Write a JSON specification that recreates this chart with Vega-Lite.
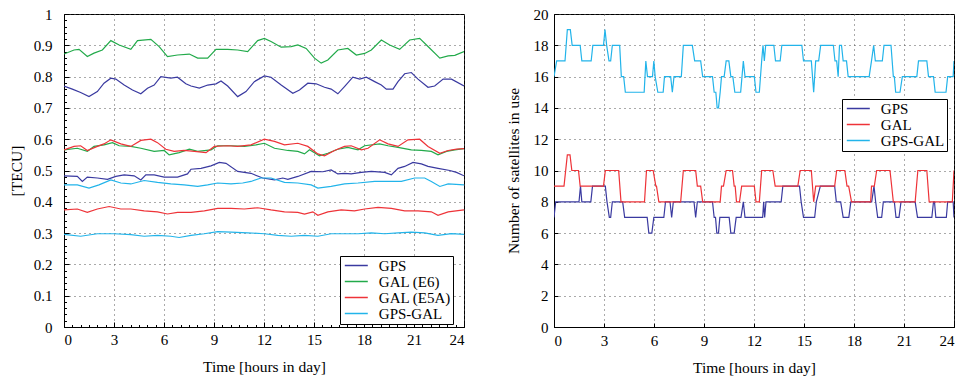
{
"$schema": "https://vega.github.io/schema/vega-lite/v6.json",
"background": "white",
"padding": {"left": 8, "top": 6, "right": 5, "bottom": 4},
"spacing": 40,
"config": {
  "font": "Liberation Serif",
  "view": {"stroke": "black", "strokeWidth": 1},
  "axis": {"labelFont": "Liberation Serif", "labelFontSize": 15, "labelColor": "black", "titleFont": "Liberation Serif", "titleFontSize": 15.5, "titleFontWeight": "normal", "titleColor": "black", "domainColor": "black", "domainWidth": 1, "tickColor": "black", "tickSize": -4, "gridColor": "#555", "gridDash": [1, 4], "gridOpacity": 1, "gridWidth": 1},
  "legend": {"orient": "none", "title": null, "strokeColor": "black", "fillColor": "white", "padding": 2, "rowPadding": 0, "labelFont": "Liberation Serif", "labelFontSize": 15, "labelColor": "black", "symbolType": "M-2.3,0H2.3", "symbolSize": 100, "symbolStrokeWidth": 1.5, "symbolOffset": 6.8, "labelOffset": 15}
},
"datasets": {
"tec": [
{"g":"A1","s":"GPS","t":0,"v":0.770},{"g":"A1","s":"GPS","t":0.5,"v":0.760},{"g":"A1","s":"GPS","t":1.0,"v":0.749},{"g":"A1","s":"GPS","t":1.5,"v":0.736},{"g":"A1","s":"GPS","t":2.0,"v":0.752},{"g":"A1","s":"GPS","t":2.4,"v":0.779},{"g":"A1","s":"GPS","t":2.81,"v":0.795},{"g":"A1","s":"GPS","t":3.11,"v":0.792},{"g":"A1","s":"GPS","t":3.61,"v":0.773},{"g":"A1","s":"GPS","t":4.11,"v":0.757},{"g":"A1","s":"GPS","t":4.61,"v":0.745},{"g":"A1","s":"GPS","t":5.01,"v":0.763},{"g":"A1","s":"GPS","t":5.41,"v":0.773},{"g":"A1","s":"GPS","t":5.81,"v":0.800},{"g":"A1","s":"GPS","t":6.41,"v":0.795},{"g":"A1","s":"GPS","t":6.81,"v":0.798},{"g":"A1","s":"GPS","t":7.31,"v":0.777},{"g":"A1","s":"GPS","t":7.62,"v":0.770},{"g":"A1","s":"GPS","t":8.12,"v":0.763},{"g":"A1","s":"GPS","t":8.62,"v":0.773},{"g":"A1","s":"GPS","t":9.12,"v":0.777},{"g":"A1","s":"GPS","t":9.42,"v":0.786},{"g":"A1","s":"GPS","t":9.82,"v":0.770},{"g":"A1","s":"GPS","t":10.42,"v":0.736},{"g":"A1","s":"GPS","t":10.92,"v":0.752},{"g":"A1","s":"GPS","t":11.42,"v":0.784},{"g":"A1","s":"GPS","t":12.02,"v":0.802},{"g":"A1","s":"GPS","t":12.42,"v":0.798},{"g":"A1","s":"GPS","t":13.03,"v":0.773},{"g":"A1","s":"GPS","t":13.73,"v":0.747},{"g":"A1","s":"GPS","t":14.13,"v":0.757},{"g":"A1","s":"GPS","t":14.63,"v":0.779},{"g":"A1","s":"GPS","t":15.13,"v":0.777},{"g":"A1","s":"GPS","t":15.63,"v":0.766},{"g":"A1","s":"GPS","t":16.03,"v":0.760},{"g":"A1","s":"GPS","t":16.43,"v":0.745},{"g":"A1","s":"GPS","t":16.83,"v":0.768},{"g":"A1","s":"GPS","t":17.33,"v":0.798},{"g":"A1","s":"GPS","t":17.74,"v":0.792},{"g":"A1","s":"GPS","t":18.14,"v":0.798},{"g":"A1","s":"GPS","t":18.64,"v":0.784},{"g":"A1","s":"GPS","t":19.04,"v":0.773},{"g":"A1","s":"GPS","t":19.34,"v":0.760},{"g":"A1","s":"GPS","t":19.74,"v":0.760},{"g":"A1","s":"GPS","t":20.04,"v":0.784},{"g":"A1","s":"GPS","t":20.44,"v":0.809},{"g":"A1","s":"GPS","t":20.84,"v":0.813},{"g":"A1","s":"GPS","t":21.24,"v":0.792},{"g":"A1","s":"GPS","t":21.84,"v":0.766},{"g":"A1","s":"GPS","t":22.24,"v":0.770},{"g":"A1","s":"GPS","t":22.75,"v":0.792},{"g":"A1","s":"GPS","t":23.25,"v":0.792},{"g":"A1","s":"GPS","t":24,"v":0.770},
{"g":"A2","s":"GPS","t":0,"v":0.483},{"g":"A2","s":"GPS","t":0.8,"v":0.481},{"g":"A2","s":"GPS","t":1.1,"v":0.465},{"g":"A2","s":"GPS","t":1.4,"v":0.479},{"g":"A2","s":"GPS","t":2.0,"v":0.476},{"g":"A2","s":"GPS","t":2.61,"v":0.472},{"g":"A2","s":"GPS","t":3.11,"v":0.481},{"g":"A2","s":"GPS","t":3.61,"v":0.486},{"g":"A2","s":"GPS","t":4.21,"v":0.483},{"g":"A2","s":"GPS","t":4.61,"v":0.470},{"g":"A2","s":"GPS","t":4.91,"v":0.486},{"g":"A2","s":"GPS","t":5.41,"v":0.486},{"g":"A2","s":"GPS","t":6.01,"v":0.479},{"g":"A2","s":"GPS","t":6.81,"v":0.479},{"g":"A2","s":"GPS","t":7.41,"v":0.489},{"g":"A2","s":"GPS","t":7.62,"v":0.504},{"g":"A2","s":"GPS","t":8.22,"v":0.507},{"g":"A2","s":"GPS","t":8.82,"v":0.515},{"g":"A2","s":"GPS","t":9.32,"v":0.526},{"g":"A2","s":"GPS","t":9.72,"v":0.523},{"g":"A2","s":"GPS","t":10.42,"v":0.497},{"g":"A2","s":"GPS","t":11.22,"v":0.491},{"g":"A2","s":"GPS","t":11.92,"v":0.476},{"g":"A2","s":"GPS","t":12.63,"v":0.470},{"g":"A2","s":"GPS","t":13.13,"v":0.476},{"g":"A2","s":"GPS","t":13.43,"v":0.472},{"g":"A2","s":"GPS","t":14.03,"v":0.481},{"g":"A2","s":"GPS","t":14.83,"v":0.497},{"g":"A2","s":"GPS","t":15.53,"v":0.496},{"g":"A2","s":"GPS","t":16.03,"v":0.502},{"g":"A2","s":"GPS","t":16.43,"v":0.489},{"g":"A2","s":"GPS","t":16.83,"v":0.491},{"g":"A2","s":"GPS","t":17.23,"v":0.489},{"g":"A2","s":"GPS","t":17.84,"v":0.494},{"g":"A2","s":"GPS","t":18.44,"v":0.497},{"g":"A2","s":"GPS","t":19.24,"v":0.494},{"g":"A2","s":"GPS","t":19.64,"v":0.486},{"g":"A2","s":"GPS","t":20.04,"v":0.507},{"g":"A2","s":"GPS","t":20.44,"v":0.513},{"g":"A2","s":"GPS","t":20.94,"v":0.526},{"g":"A2","s":"GPS","t":21.44,"v":0.521},{"g":"A2","s":"GPS","t":21.84,"v":0.513},{"g":"A2","s":"GPS","t":22.44,"v":0.507},{"g":"A2","s":"GPS","t":23.15,"v":0.500},{"g":"A2","s":"GPS","t":23.55,"v":0.494},{"g":"A2","s":"GPS","t":24,"v":0.483},
{"g":"B1","s":"GAL (E6)","t":0,"v":0.872},{"g":"B1","s":"GAL (E6)","t":0.6,"v":0.885},{"g":"B1","s":"GAL (E6)","t":0.9,"v":0.887},{"g":"B1","s":"GAL (E6)","t":1.4,"v":0.864},{"g":"B1","s":"GAL (E6)","t":1.8,"v":0.875},{"g":"B1","s":"GAL (E6)","t":2.3,"v":0.885},{"g":"B1","s":"GAL (E6)","t":2.81,"v":0.915},{"g":"B1","s":"GAL (E6)","t":3.31,"v":0.901},{"g":"B1","s":"GAL (E6)","t":4.01,"v":0.887},{"g":"B1","s":"GAL (E6)","t":4.41,"v":0.915},{"g":"B1","s":"GAL (E6)","t":5.21,"v":0.919},{"g":"B1","s":"GAL (E6)","t":5.71,"v":0.896},{"g":"B1","s":"GAL (E6)","t":6.21,"v":0.864},{"g":"B1","s":"GAL (E6)","t":6.81,"v":0.869},{"g":"B1","s":"GAL (E6)","t":7.52,"v":0.872},{"g":"B1","s":"GAL (E6)","t":8.02,"v":0.859},{"g":"B1","s":"GAL (E6)","t":8.62,"v":0.859},{"g":"B1","s":"GAL (E6)","t":9.12,"v":0.887},{"g":"B1","s":"GAL (E6)","t":9.82,"v":0.887},{"g":"B1","s":"GAL (E6)","t":10.42,"v":0.885},{"g":"B1","s":"GAL (E6)","t":11.02,"v":0.880},{"g":"B1","s":"GAL (E6)","t":11.62,"v":0.915},{"g":"B1","s":"GAL (E6)","t":12.02,"v":0.922},{"g":"B1","s":"GAL (E6)","t":12.42,"v":0.912},{"g":"B1","s":"GAL (E6)","t":13.03,"v":0.894},{"g":"B1","s":"GAL (E6)","t":13.63,"v":0.896},{"g":"B1","s":"GAL (E6)","t":14.03,"v":0.901},{"g":"B1","s":"GAL (E6)","t":14.53,"v":0.890},{"g":"B1","s":"GAL (E6)","t":15.03,"v":0.859},{"g":"B1","s":"GAL (E6)","t":15.43,"v":0.843},{"g":"B1","s":"GAL (E6)","t":15.83,"v":0.853},{"g":"B1","s":"GAL (E6)","t":16.43,"v":0.885},{"g":"B1","s":"GAL (E6)","t":17.03,"v":0.890},{"g":"B1","s":"GAL (E6)","t":17.54,"v":0.869},{"g":"B1","s":"GAL (E6)","t":18.04,"v":0.874},{"g":"B1","s":"GAL (E6)","t":18.44,"v":0.885},{"g":"B1","s":"GAL (E6)","t":19.04,"v":0.917},{"g":"B1","s":"GAL (E6)","t":19.54,"v":0.901},{"g":"B1","s":"GAL (E6)","t":20.14,"v":0.887},{"g":"B1","s":"GAL (E6)","t":20.74,"v":0.917},{"g":"B1","s":"GAL (E6)","t":21.34,"v":0.922},{"g":"B1","s":"GAL (E6)","t":21.84,"v":0.896},{"g":"B1","s":"GAL (E6)","t":22.55,"v":0.859},{"g":"B1","s":"GAL (E6)","t":23.05,"v":0.866},{"g":"B1","s":"GAL (E6)","t":23.45,"v":0.868},{"g":"B1","s":"GAL (E6)","t":24,"v":0.880},
{"g":"B2","s":"GAL (E6)","t":0,"v":0.566},{"g":"B2","s":"GAL (E6)","t":0.8,"v":0.571},{"g":"B2","s":"GAL (E6)","t":1.4,"v":0.561},{"g":"B2","s":"GAL (E6)","t":1.8,"v":0.577},{"g":"B2","s":"GAL (E6)","t":2.4,"v":0.582},{"g":"B2","s":"GAL (E6)","t":2.91,"v":0.589},{"g":"B2","s":"GAL (E6)","t":3.31,"v":0.579},{"g":"B2","s":"GAL (E6)","t":4.01,"v":0.577},{"g":"B2","s":"GAL (E6)","t":4.61,"v":0.571},{"g":"B2","s":"GAL (E6)","t":5.41,"v":0.561},{"g":"B2","s":"GAL (E6)","t":6.01,"v":0.564},{"g":"B2","s":"GAL (E6)","t":6.31,"v":0.550},{"g":"B2","s":"GAL (E6)","t":6.91,"v":0.557},{"g":"B2","s":"GAL (E6)","t":7.52,"v":0.568},{"g":"B2","s":"GAL (E6)","t":8.02,"v":0.561},{"g":"B2","s":"GAL (E6)","t":8.82,"v":0.566},{"g":"B2","s":"GAL (E6)","t":9.22,"v":0.579},{"g":"B2","s":"GAL (E6)","t":10.02,"v":0.579},{"g":"B2","s":"GAL (E6)","t":10.82,"v":0.577},{"g":"B2","s":"GAL (E6)","t":11.52,"v":0.582},{"g":"B2","s":"GAL (E6)","t":12.02,"v":0.587},{"g":"B2","s":"GAL (E6)","t":12.63,"v":0.571},{"g":"B2","s":"GAL (E6)","t":13.43,"v":0.564},{"g":"B2","s":"GAL (E6)","t":14.03,"v":0.561},{"g":"B2","s":"GAL (E6)","t":14.43,"v":0.553},{"g":"B2","s":"GAL (E6)","t":14.73,"v":0.566},{"g":"B2","s":"GAL (E6)","t":15.33,"v":0.547},{"g":"B2","s":"GAL (E6)","t":15.83,"v":0.555},{"g":"B2","s":"GAL (E6)","t":16.43,"v":0.568},{"g":"B2","s":"GAL (E6)","t":17.03,"v":0.574},{"g":"B2","s":"GAL (E6)","t":17.64,"v":0.566},{"g":"B2","s":"GAL (E6)","t":18.04,"v":0.579},{"g":"B2","s":"GAL (E6)","t":18.94,"v":0.585},{"g":"B2","s":"GAL (E6)","t":19.44,"v":0.579},{"g":"B2","s":"GAL (E6)","t":20.04,"v":0.574},{"g":"B2","s":"GAL (E6)","t":20.84,"v":0.566},{"g":"B2","s":"GAL (E6)","t":21.44,"v":0.564},{"g":"B2","s":"GAL (E6)","t":22.04,"v":0.561},{"g":"B2","s":"GAL (E6)","t":22.44,"v":0.550},{"g":"B2","s":"GAL (E6)","t":22.95,"v":0.561},{"g":"B2","s":"GAL (E6)","t":23.45,"v":0.566},{"g":"B2","s":"GAL (E6)","t":24,"v":0.570},
{"g":"C1","s":"GAL (E5A)","t":0,"v":0.566},{"g":"C1","s":"GAL (E5A)","t":0.6,"v":0.577},{"g":"C1","s":"GAL (E5A)","t":1.0,"v":0.579},{"g":"C1","s":"GAL (E5A)","t":1.4,"v":0.564},{"g":"C1","s":"GAL (E5A)","t":2.0,"v":0.577},{"g":"C1","s":"GAL (E5A)","t":2.4,"v":0.585},{"g":"C1","s":"GAL (E5A)","t":2.81,"v":0.598},{"g":"C1","s":"GAL (E5A)","t":3.41,"v":0.585},{"g":"C1","s":"GAL (E5A)","t":4.01,"v":0.577},{"g":"C1","s":"GAL (E5A)","t":4.61,"v":0.596},{"g":"C1","s":"GAL (E5A)","t":5.21,"v":0.600},{"g":"C1","s":"GAL (E5A)","t":5.61,"v":0.589},{"g":"C1","s":"GAL (E5A)","t":6.11,"v":0.568},{"g":"C1","s":"GAL (E5A)","t":6.61,"v":0.561},{"g":"C1","s":"GAL (E5A)","t":7.21,"v":0.564},{"g":"C1","s":"GAL (E5A)","t":7.82,"v":0.561},{"g":"C1","s":"GAL (E5A)","t":8.52,"v":0.557},{"g":"C1","s":"GAL (E5A)","t":9.02,"v":0.577},{"g":"C1","s":"GAL (E5A)","t":9.82,"v":0.579},{"g":"C1","s":"GAL (E5A)","t":10.42,"v":0.577},{"g":"C1","s":"GAL (E5A)","t":11.22,"v":0.582},{"g":"C1","s":"GAL (E5A)","t":12.02,"v":0.600},{"g":"C1","s":"GAL (E5A)","t":12.63,"v":0.593},{"g":"C1","s":"GAL (E5A)","t":13.23,"v":0.582},{"g":"C1","s":"GAL (E5A)","t":14.03,"v":0.587},{"g":"C1","s":"GAL (E5A)","t":14.63,"v":0.577},{"g":"C1","s":"GAL (E5A)","t":15.23,"v":0.553},{"g":"C1","s":"GAL (E5A)","t":15.63,"v":0.547},{"g":"C1","s":"GAL (E5A)","t":16.23,"v":0.564},{"g":"C1","s":"GAL (E5A)","t":16.83,"v":0.577},{"g":"C1","s":"GAL (E5A)","t":17.23,"v":0.579},{"g":"C1","s":"GAL (E5A)","t":17.84,"v":0.566},{"g":"C1","s":"GAL (E5A)","t":18.24,"v":0.571},{"g":"C1","s":"GAL (E5A)","t":18.94,"v":0.598},{"g":"C1","s":"GAL (E5A)","t":19.44,"v":0.585},{"g":"C1","s":"GAL (E5A)","t":20.04,"v":0.577},{"g":"C1","s":"GAL (E5A)","t":20.64,"v":0.598},{"g":"C1","s":"GAL (E5A)","t":21.34,"v":0.600},{"g":"C1","s":"GAL (E5A)","t":21.84,"v":0.577},{"g":"C1","s":"GAL (E5A)","t":22.55,"v":0.555},{"g":"C1","s":"GAL (E5A)","t":23.05,"v":0.564},{"g":"C1","s":"GAL (E5A)","t":23.55,"v":0.568},{"g":"C1","s":"GAL (E5A)","t":24,"v":0.570},
{"g":"C2","s":"GAL (E5A)","t":0,"v":0.374},{"g":"C2","s":"GAL (E5A)","t":0.8,"v":0.377},{"g":"C2","s":"GAL (E5A)","t":1.4,"v":0.366},{"g":"C2","s":"GAL (E5A)","t":2.0,"v":0.377},{"g":"C2","s":"GAL (E5A)","t":2.71,"v":0.385},{"g":"C2","s":"GAL (E5A)","t":3.41,"v":0.377},{"g":"C2","s":"GAL (E5A)","t":4.01,"v":0.377},{"g":"C2","s":"GAL (E5A)","t":4.81,"v":0.371},{"g":"C2","s":"GAL (E5A)","t":5.61,"v":0.368},{"g":"C2","s":"GAL (E5A)","t":6.21,"v":0.361},{"g":"C2","s":"GAL (E5A)","t":6.81,"v":0.366},{"g":"C2","s":"GAL (E5A)","t":7.62,"v":0.366},{"g":"C2","s":"GAL (E5A)","t":8.42,"v":0.371},{"g":"C2","s":"GAL (E5A)","t":9.22,"v":0.379},{"g":"C2","s":"GAL (E5A)","t":10.02,"v":0.379},{"g":"C2","s":"GAL (E5A)","t":10.82,"v":0.377},{"g":"C2","s":"GAL (E5A)","t":11.62,"v":0.381},{"g":"C2","s":"GAL (E5A)","t":12.42,"v":0.374},{"g":"C2","s":"GAL (E5A)","t":13.23,"v":0.368},{"g":"C2","s":"GAL (E5A)","t":14.03,"v":0.366},{"g":"C2","s":"GAL (E5A)","t":14.43,"v":0.361},{"g":"C2","s":"GAL (E5A)","t":14.93,"v":0.368},{"g":"C2","s":"GAL (E5A)","t":15.23,"v":0.357},{"g":"C2","s":"GAL (E5A)","t":15.83,"v":0.368},{"g":"C2","s":"GAL (E5A)","t":16.63,"v":0.374},{"g":"C2","s":"GAL (E5A)","t":17.43,"v":0.371},{"g":"C2","s":"GAL (E5A)","t":18.04,"v":0.377},{"g":"C2","s":"GAL (E5A)","t":18.84,"v":0.382},{"g":"C2","s":"GAL (E5A)","t":19.64,"v":0.379},{"g":"C2","s":"GAL (E5A)","t":20.44,"v":0.371},{"g":"C2","s":"GAL (E5A)","t":21.24,"v":0.371},{"g":"C2","s":"GAL (E5A)","t":22.04,"v":0.368},{"g":"C2","s":"GAL (E5A)","t":22.44,"v":0.357},{"g":"C2","s":"GAL (E5A)","t":23.05,"v":0.368},{"g":"C2","s":"GAL (E5A)","t":24,"v":0.374},
{"g":"D1","s":"GPS-GAL","t":0,"v":0.454},{"g":"D1","s":"GPS-GAL","t":0.8,"v":0.454},{"g":"D1","s":"GPS-GAL","t":1.5,"v":0.444},{"g":"D1","s":"GPS-GAL","t":2.1,"v":0.454},{"g":"D1","s":"GPS-GAL","t":2.81,"v":0.470},{"g":"D1","s":"GPS-GAL","t":3.41,"v":0.460},{"g":"D1","s":"GPS-GAL","t":4.01,"v":0.457},{"g":"D1","s":"GPS-GAL","t":4.81,"v":0.468},{"g":"D1","s":"GPS-GAL","t":5.61,"v":0.462},{"g":"D1","s":"GPS-GAL","t":6.41,"v":0.457},{"g":"D1","s":"GPS-GAL","t":7.21,"v":0.454},{"g":"D1","s":"GPS-GAL","t":8.02,"v":0.449},{"g":"D1","s":"GPS-GAL","t":8.62,"v":0.454},{"g":"D1","s":"GPS-GAL","t":9.22,"v":0.460},{"g":"D1","s":"GPS-GAL","t":10.02,"v":0.457},{"g":"D1","s":"GPS-GAL","t":10.72,"v":0.460},{"g":"D1","s":"GPS-GAL","t":11.22,"v":0.465},{"g":"D1","s":"GPS-GAL","t":11.82,"v":0.476},{"g":"D1","s":"GPS-GAL","t":12.42,"v":0.476},{"g":"D1","s":"GPS-GAL","t":13.23,"v":0.462},{"g":"D1","s":"GPS-GAL","t":14.03,"v":0.460},{"g":"D1","s":"GPS-GAL","t":14.83,"v":0.454},{"g":"D1","s":"GPS-GAL","t":15.23,"v":0.444},{"g":"D1","s":"GPS-GAL","t":16.03,"v":0.449},{"g":"D1","s":"GPS-GAL","t":16.83,"v":0.457},{"g":"D1","s":"GPS-GAL","t":17.64,"v":0.460},{"g":"D1","s":"GPS-GAL","t":18.64,"v":0.465},{"g":"D1","s":"GPS-GAL","t":19.44,"v":0.465},{"g":"D1","s":"GPS-GAL","t":20.24,"v":0.465},{"g":"D1","s":"GPS-GAL","t":21.04,"v":0.476},{"g":"D1","s":"GPS-GAL","t":21.64,"v":0.476},{"g":"D1","s":"GPS-GAL","t":22.04,"v":0.465},{"g":"D1","s":"GPS-GAL","t":22.55,"v":0.449},{"g":"D1","s":"GPS-GAL","t":23.05,"v":0.457},{"g":"D1","s":"GPS-GAL","t":24,"v":0.454},
{"g":"D2","s":"GPS-GAL","t":0,"v":0.296},{"g":"D2","s":"GPS-GAL","t":1.0,"v":0.290},{"g":"D2","s":"GPS-GAL","t":2.0,"v":0.298},{"g":"D2","s":"GPS-GAL","t":3.01,"v":0.298},{"g":"D2","s":"GPS-GAL","t":4.01,"v":0.295},{"g":"D2","s":"GPS-GAL","t":4.81,"v":0.290},{"g":"D2","s":"GPS-GAL","t":5.61,"v":0.293},{"g":"D2","s":"GPS-GAL","t":6.41,"v":0.290},{"g":"D2","s":"GPS-GAL","t":6.91,"v":0.286},{"g":"D2","s":"GPS-GAL","t":7.62,"v":0.293},{"g":"D2","s":"GPS-GAL","t":8.42,"v":0.298},{"g":"D2","s":"GPS-GAL","t":9.22,"v":0.305},{"g":"D2","s":"GPS-GAL","t":10.02,"v":0.303},{"g":"D2","s":"GPS-GAL","t":11.02,"v":0.301},{"g":"D2","s":"GPS-GAL","t":12.02,"v":0.298},{"g":"D2","s":"GPS-GAL","t":12.83,"v":0.293},{"g":"D2","s":"GPS-GAL","t":13.63,"v":0.290},{"g":"D2","s":"GPS-GAL","t":14.43,"v":0.293},{"g":"D2","s":"GPS-GAL","t":15.23,"v":0.290},{"g":"D2","s":"GPS-GAL","t":16.03,"v":0.298},{"g":"D2","s":"GPS-GAL","t":16.83,"v":0.298},{"g":"D2","s":"GPS-GAL","t":17.64,"v":0.298},{"g":"D2","s":"GPS-GAL","t":18.44,"v":0.301},{"g":"D2","s":"GPS-GAL","t":19.24,"v":0.298},{"g":"D2","s":"GPS-GAL","t":20.04,"v":0.301},{"g":"D2","s":"GPS-GAL","t":20.84,"v":0.303},{"g":"D2","s":"GPS-GAL","t":21.64,"v":0.301},{"g":"D2","s":"GPS-GAL","t":22.44,"v":0.293},{"g":"D2","s":"GPS-GAL","t":23.25,"v":0.298},{"g":"D2","s":"GPS-GAL","t":24,"v":0.296}
],
"sat": [
{"s":"GPS","t":0,"n":7},{"s":"GPS","t":0.10,"n":8},{"s":"GPS","t":1.50,"n":8},{"s":"GPS","t":1.59,"n":9},{"s":"GPS","t":1.67,"n":8},{"s":"GPS","t":2.21,"n":8},{"s":"GPS","t":2.31,"n":9},{"s":"GPS","t":3.08,"n":9},{"s":"GPS","t":3.18,"n":8},{"s":"GPS","t":3.32,"n":7},{"s":"GPS","t":3.40,"n":7},{"s":"GPS","t":3.50,"n":8},{"s":"GPS","t":4.12,"n":8},{"s":"GPS","t":4.24,"n":7},{"s":"GPS","t":5.59,"n":7},{"s":"GPS","t":5.69,"n":6},{"s":"GPS","t":5.87,"n":6},{"s":"GPS","t":5.99,"n":7},{"s":"GPS","t":6.59,"n":7},{"s":"GPS","t":6.69,"n":8},{"s":"GPS","t":6.96,"n":8},{"s":"GPS","t":7.06,"n":7},{"s":"GPS","t":7.16,"n":8},{"s":"GPS","t":8.40,"n":8},{"s":"GPS","t":8.50,"n":7},{"s":"GPS","t":8.60,"n":8},{"s":"GPS","t":9.51,"n":8},{"s":"GPS","t":9.61,"n":7},{"s":"GPS","t":9.69,"n":7},{"s":"GPS","t":9.77,"n":6},{"s":"GPS","t":9.87,"n":6},{"s":"GPS","t":9.95,"n":7},{"s":"GPS","t":10.51,"n":7},{"s":"GPS","t":10.61,"n":6},{"s":"GPS","t":10.81,"n":6},{"s":"GPS","t":10.93,"n":7},{"s":"GPS","t":11.22,"n":7},{"s":"GPS","t":11.36,"n":8},{"s":"GPS","t":11.46,"n":7},{"s":"GPS","t":12.52,"n":7},{"s":"GPS","t":12.58,"n":8},{"s":"GPS","t":12.64,"n":7},{"s":"GPS","t":12.72,"n":8},{"s":"GPS","t":13.63,"n":8},{"s":"GPS","t":13.73,"n":9},{"s":"GPS","t":14.73,"n":9},{"s":"GPS","t":14.83,"n":8},{"s":"GPS","t":14.97,"n":7},{"s":"GPS","t":15.64,"n":7},{"s":"GPS","t":15.74,"n":8},{"s":"GPS","t":15.98,"n":9},{"s":"GPS","t":16.84,"n":9},{"s":"GPS","t":16.94,"n":8},{"s":"GPS","t":17.20,"n":8},{"s":"GPS","t":17.35,"n":7},{"s":"GPS","t":17.69,"n":7},{"s":"GPS","t":17.81,"n":8},{"s":"GPS","t":19.06,"n":8},{"s":"GPS","t":19.20,"n":9},{"s":"GPS","t":19.30,"n":8},{"s":"GPS","t":19.42,"n":7},{"s":"GPS","t":19.66,"n":7},{"s":"GPS","t":19.76,"n":8},{"s":"GPS","t":20.42,"n":8},{"s":"GPS","t":20.52,"n":7},{"s":"GPS","t":20.70,"n":7},{"s":"GPS","t":20.82,"n":8},{"s":"GPS","t":21.67,"n":8},{"s":"GPS","t":21.81,"n":7},{"s":"GPS","t":22.67,"n":7},{"s":"GPS","t":22.77,"n":8},{"s":"GPS","t":22.83,"n":8},{"s":"GPS","t":22.91,"n":7},{"s":"GPS","t":23.54,"n":7},{"s":"GPS","t":23.62,"n":8},{"s":"GPS","t":23.95,"n":8},{"s":"GPS","t":24,"n":7},
{"s":"GAL","t":0,"n":9},{"s":"GAL","t":0.60,"n":9},{"s":"GAL","t":0.80,"n":11},{"s":"GAL","t":0.96,"n":11},{"s":"GAL","t":1.07,"n":10},{"s":"GAL","t":1.47,"n":10},{"s":"GAL","t":1.57,"n":9},{"s":"GAL","t":2.97,"n":9},{"s":"GAL","t":3.08,"n":10},{"s":"GAL","t":3.88,"n":10},{"s":"GAL","t":4.02,"n":8},{"s":"GAL","t":5.43,"n":8},{"s":"GAL","t":5.55,"n":10},{"s":"GAL","t":5.95,"n":10},{"s":"GAL","t":6.11,"n":9},{"s":"GAL","t":6.15,"n":9},{"s":"GAL","t":6.29,"n":8},{"s":"GAL","t":7.60,"n":8},{"s":"GAL","t":7.76,"n":10},{"s":"GAL","t":8.50,"n":10},{"s":"GAL","t":8.60,"n":9},{"s":"GAL","t":8.80,"n":9},{"s":"GAL","t":8.92,"n":8},{"s":"GAL","t":9.97,"n":8},{"s":"GAL","t":10.05,"n":9},{"s":"GAL","t":10.17,"n":9},{"s":"GAL","t":10.33,"n":10},{"s":"GAL","t":10.71,"n":10},{"s":"GAL","t":10.81,"n":9},{"s":"GAL","t":10.87,"n":9},{"s":"GAL","t":10.95,"n":8},{"s":"GAL","t":11.13,"n":8},{"s":"GAL","t":11.26,"n":9},{"s":"GAL","t":12.02,"n":9},{"s":"GAL","t":12.12,"n":8},{"s":"GAL","t":12.32,"n":8},{"s":"GAL","t":12.46,"n":10},{"s":"GAL","t":13.13,"n":10},{"s":"GAL","t":13.27,"n":9},{"s":"GAL","t":14.63,"n":9},{"s":"GAL","t":14.77,"n":10},{"s":"GAL","t":15.44,"n":10},{"s":"GAL","t":15.58,"n":8},{"s":"GAL","t":15.70,"n":9},{"s":"GAL","t":16.84,"n":9},{"s":"GAL","t":16.96,"n":10},{"s":"GAL","t":17.45,"n":10},{"s":"GAL","t":17.58,"n":9},{"s":"GAL","t":17.68,"n":9},{"s":"GAL","t":17.85,"n":8},{"s":"GAL","t":19.00,"n":8},{"s":"GAL","t":19.05,"n":9},{"s":"GAL","t":19.22,"n":9},{"s":"GAL","t":19.36,"n":10},{"s":"GAL","t":20.16,"n":10},{"s":"GAL","t":20.36,"n":8},{"s":"GAL","t":21.67,"n":8},{"s":"GAL","t":21.83,"n":10},{"s":"GAL","t":22.37,"n":10},{"s":"GAL","t":22.51,"n":8},{"s":"GAL","t":23.90,"n":8},{"s":"GAL","t":24,"n":10},
{"s":"GPS-GAL","t":0,"n":16},{"s":"GPS-GAL","t":0.16,"n":17},{"s":"GPS-GAL","t":0.66,"n":17},{"s":"GPS-GAL","t":0.80,"n":19},{"s":"GPS-GAL","t":0.98,"n":19},{"s":"GPS-GAL","t":1.09,"n":18},{"s":"GPS-GAL","t":1.57,"n":18},{"s":"GPS-GAL","t":1.67,"n":17},{"s":"GPS-GAL","t":2.23,"n":17},{"s":"GPS-GAL","t":2.33,"n":18},{"s":"GPS-GAL","t":2.97,"n":18},{"s":"GPS-GAL","t":3.06,"n":19},{"s":"GPS-GAL","t":3.16,"n":18},{"s":"GPS-GAL","t":3.30,"n":17},{"s":"GPS-GAL","t":3.40,"n":17},{"s":"GPS-GAL","t":3.50,"n":18},{"s":"GPS-GAL","t":3.94,"n":18},{"s":"GPS-GAL","t":4.04,"n":16},{"s":"GPS-GAL","t":4.18,"n":16},{"s":"GPS-GAL","t":4.28,"n":15},{"s":"GPS-GAL","t":5.41,"n":15},{"s":"GPS-GAL","t":5.51,"n":17},{"s":"GPS-GAL","t":5.61,"n":16},{"s":"GPS-GAL","t":5.91,"n":16},{"s":"GPS-GAL","t":5.99,"n":17},{"s":"GPS-GAL","t":6.07,"n":16},{"s":"GPS-GAL","t":6.23,"n":15},{"s":"GPS-GAL","t":6.55,"n":15},{"s":"GPS-GAL","t":6.63,"n":16},{"s":"GPS-GAL","t":7.00,"n":16},{"s":"GPS-GAL","t":7.10,"n":15},{"s":"GPS-GAL","t":7.20,"n":16},{"s":"GPS-GAL","t":7.64,"n":16},{"s":"GPS-GAL","t":7.76,"n":18},{"s":"GPS-GAL","t":8.30,"n":18},{"s":"GPS-GAL","t":8.44,"n":17},{"s":"GPS-GAL","t":8.80,"n":17},{"s":"GPS-GAL","t":8.92,"n":16},{"s":"GPS-GAL","t":9.51,"n":16},{"s":"GPS-GAL","t":9.61,"n":15},{"s":"GPS-GAL","t":9.71,"n":15},{"s":"GPS-GAL","t":9.79,"n":14},{"s":"GPS-GAL","t":9.87,"n":14},{"s":"GPS-GAL","t":9.97,"n":15},{"s":"GPS-GAL","t":10.05,"n":16},{"s":"GPS-GAL","t":10.21,"n":16},{"s":"GPS-GAL","t":10.33,"n":17},{"s":"GPS-GAL","t":10.49,"n":17},{"s":"GPS-GAL","t":10.61,"n":16},{"s":"GPS-GAL","t":10.73,"n":16},{"s":"GPS-GAL","t":10.85,"n":15},{"s":"GPS-GAL","t":11.20,"n":15},{"s":"GPS-GAL","t":11.28,"n":16},{"s":"GPS-GAL","t":11.36,"n":17},{"s":"GPS-GAL","t":11.46,"n":16},{"s":"GPS-GAL","t":12.02,"n":16},{"s":"GPS-GAL","t":12.12,"n":15},{"s":"GPS-GAL","t":12.32,"n":15},{"s":"GPS-GAL","t":12.46,"n":17},{"s":"GPS-GAL","t":12.54,"n":18},{"s":"GPS-GAL","t":12.62,"n":17},{"s":"GPS-GAL","t":12.70,"n":18},{"s":"GPS-GAL","t":13.19,"n":18},{"s":"GPS-GAL","t":13.29,"n":17},{"s":"GPS-GAL","t":13.57,"n":17},{"s":"GPS-GAL","t":13.67,"n":18},{"s":"GPS-GAL","t":14.87,"n":18},{"s":"GPS-GAL","t":14.97,"n":17},{"s":"GPS-GAL","t":15.44,"n":17},{"s":"GPS-GAL","t":15.58,"n":15},{"s":"GPS-GAL","t":15.70,"n":17},{"s":"GPS-GAL","t":15.88,"n":17},{"s":"GPS-GAL","t":16.00,"n":18},{"s":"GPS-GAL","t":16.76,"n":18},{"s":"GPS-GAL","t":16.86,"n":17},{"s":"GPS-GAL","t":16.96,"n":17},{"s":"GPS-GAL","t":17.05,"n":16},{"s":"GPS-GAL","t":17.13,"n":18},{"s":"GPS-GAL","t":17.25,"n":18},{"s":"GPS-GAL","t":17.35,"n":17},{"s":"GPS-GAL","t":17.55,"n":17},{"s":"GPS-GAL","t":17.65,"n":16},{"s":"GPS-GAL","t":18.91,"n":16},{"s":"GPS-GAL","t":19.05,"n":17},{"s":"GPS-GAL","t":19.18,"n":18},{"s":"GPS-GAL","t":19.28,"n":17},{"s":"GPS-GAL","t":19.70,"n":17},{"s":"GPS-GAL","t":19.80,"n":18},{"s":"GPS-GAL","t":20.22,"n":18},{"s":"GPS-GAL","t":20.36,"n":16},{"s":"GPS-GAL","t":20.42,"n":16},{"s":"GPS-GAL","t":20.50,"n":15},{"s":"GPS-GAL","t":20.76,"n":15},{"s":"GPS-GAL","t":20.90,"n":16},{"s":"GPS-GAL","t":21.77,"n":16},{"s":"GPS-GAL","t":21.87,"n":17},{"s":"GPS-GAL","t":22.37,"n":17},{"s":"GPS-GAL","t":22.47,"n":16},{"s":"GPS-GAL","t":22.77,"n":16},{"s":"GPS-GAL","t":22.87,"n":15},{"s":"GPS-GAL","t":23.52,"n":15},{"s":"GPS-GAL","t":23.62,"n":16},{"s":"GPS-GAL","t":23.95,"n":16},{"s":"GPS-GAL","t":24,"n":17}
]
},
"hconcat": [
{
  "width": 400, "height": 313,
  "data": {"name": "tec"},
  "mark": {"type": "line", "strokeWidth": 1.2, "clip": true},
  "encoding": {
    "x": {"field": "t", "type": "quantitative", "scale": {"domain": [0, 24], "nice": false}, "axis": {"values": [0,0.5,1,1.5,2,2.5,3,3.5,4,4.5,5,5.5,6,6.5,7,7.5,8,8.5,9,9.5,10,10.5,11,11.5,12,12.5,13,13.5,14,14.5,15,15.5,16,16.5,17,17.5,18,18.5,19,19.5,20,20.5,21,21.5,22,22.5,23,23.5,24], "format": "~g", "labelExpr": "datum.value % 3 === 0 ? datum.label : ''", "gridOpacity": {"condition": {"test": "datum.value % 3 === 0", "value": 1}, "value": 0}, "tickSize": {"condition": {"test": "datum.value % 3 === 0", "value": -5}, "value": -2.5}, "title": "Time [hours in day]", "labelPadding": 10, "titlePadding": 12}},
    "y": {"field": "v", "type": "quantitative", "scale": {"domain": [0, 1], "nice": false}, "axis": {"values": [0,0.02,0.04,0.06,0.08,0.1,0.12,0.14,0.16,0.18,0.2,0.22,0.24,0.26,0.28,0.3,0.32,0.34,0.36,0.38,0.4,0.42,0.44,0.46,0.48,0.5,0.52,0.54,0.56,0.58,0.6,0.62,0.64,0.66,0.68,0.7,0.72,0.74,0.76,0.78,0.8,0.82,0.84,0.86,0.88,0.9,0.92,0.94,0.96,0.98,1], "format": ".1~f", "labelExpr": "abs(datum.value*10 - round(datum.value*10)) < 0.001 ? datum.label : ''", "gridOpacity": {"condition": {"test": "abs(datum.value*10 - round(datum.value*10)) < 0.001", "value": 1}, "value": 0}, "tickSize": {"condition": {"test": "abs(datum.value*10 - round(datum.value*10)) < 0.001", "value": -5}, "value": -2.5}, "title": "[TECU]", "labelPadding": 17, "titlePadding": 9}},
    "color": {"field": "s", "type": "nominal", "scale": {"domain": ["GPS", "GAL (E6)", "GAL (E5A)", "GPS-GAL"], "range": ["#3a3aa0", "#22aa4a", "#ee3338", "#22b4ea"]}, "legend": {"legendX": 276, "legendY": 242}},
    "detail": {"field": "g", "type": "nominal"}
  }
},
{
  "width": 400, "height": 313,
  "data": {"name": "sat"},
  "mark": {"type": "line", "strokeWidth": 1.2, "clip": true},
  "encoding": {
    "x": {"field": "t", "type": "quantitative", "scale": {"domain": [0, 24], "nice": false}, "axis": {"values": [0,3,6,9,12,15,18,21,24], "format": "~g", "title": "Time [hours in day]", "labelPadding": 10, "titlePadding": 12}},
    "y": {"field": "n", "type": "quantitative", "scale": {"domain": [0, 20], "nice": false}, "axis": {"values": [0,2,4,6,8,10,12,14,16,18,20], "title": "Number of satellites in use", "labelPadding": 10, "titlePadding": 12}},
    "color": {"field": "s", "type": "nominal", "scale": {"domain": ["GPS", "GAL", "GPS-GAL"], "range": ["#3a3aa0", "#ee3338", "#22b4ea"]}, "legend": {"legendX": 288, "legendY": 85}}
  }
}
],
"resolve": {"scale": {"color": "independent"}, "legend": {"color": "independent"}}
}
